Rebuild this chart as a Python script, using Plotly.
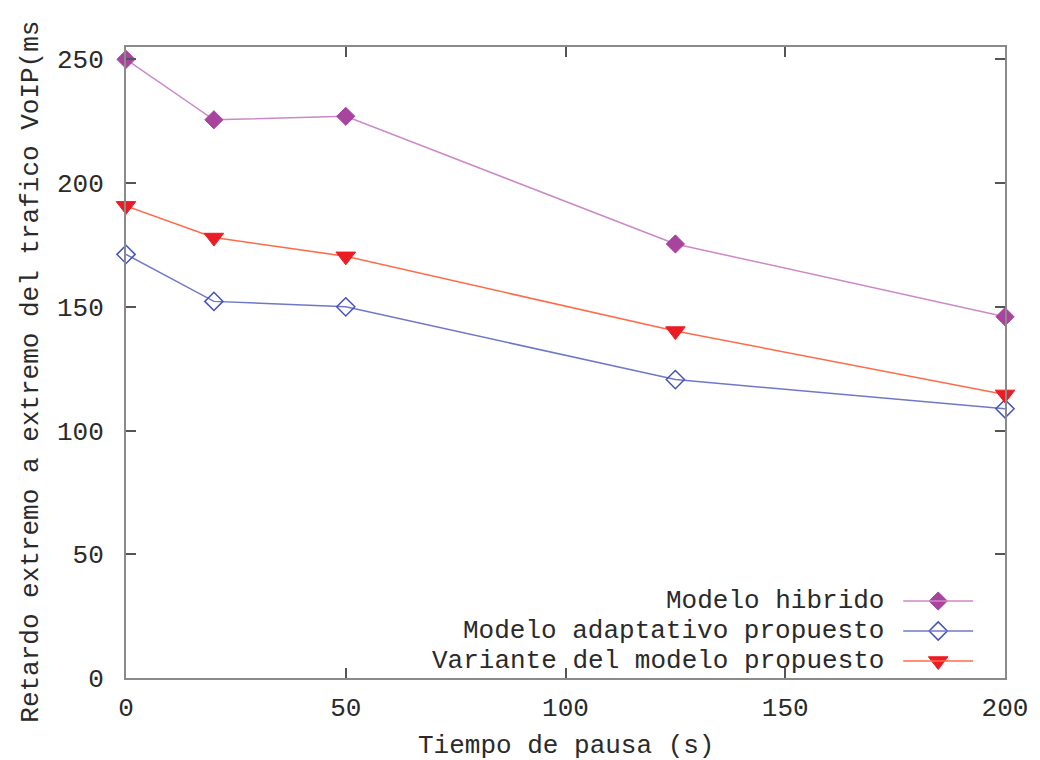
import plotly.graph_objects as go

# ---- data ----
pause_time = [0, 20, 50, 125, 200]
hibrido = [250.0, 225.6, 227.0, 175.4, 146.0]
adaptativo = [171.2, 152.2, 150.0, 120.6, 108.8]
variante = [190.8, 178.0, 170.4, 140.2, 114.6]

series_names = ["Modelo hibrido", "Modelo adaptativo propuesto", "Variante del modelo propuesto"]
x_ticks = [0, 50, 100, 150, 200]
y_ticks = [0, 50, 100, 150, 200, 250]

x_title = "Tiempo de pausa (s)"
y_title = "Retardo extremo a extremo del trafico VoIP(ms"

# ---- styles ----
FONT = "Liberation Mono, Courier New, monospace"
FS = 26
TXT = "#2a2a2a"
AX = "#8a8a8a"

styles = [
    dict(line=dict(color="#cc88c8", width=1.5),
         marker=dict(symbol="diamond", size=14, color="#a8449e",
                     line=dict(color="#a8449e", width=1))),
    dict(line=dict(color="#6f78c8", width=1.5),
         marker=dict(symbol="diamond-open", size=14, color="#4453bd",
                     line=dict(color="#4453bd", width=1.5))),
    dict(line=dict(color="#ff6a48", width=1.5),
         marker=dict(symbol="triangle-down", size=17, color="#ec1c24",
                     line=dict(color="#ec1c24", width=1))),
]

fig = go.Figure()
for name, ys, st in zip(series_names, [hibrido, adaptativo, variante], styles):
    fig.add_trace(go.Scatter(x=pause_time, y=ys, mode="lines+markers", name=name,
                             line=st["line"], marker=st["marker"], cliponaxis=False,
                             showlegend=False))

# ---- custom legend (text left, key right), on an overlay axis with [0,1] range ----
leg_rows = [0.1220, 0.0745, 0.0269]
text_right = 0.8638
key_x0, key_xm, key_x1 = 0.8842, 0.924, 0.9637
annotations = []
shapes = []
for name, st, yr in zip(series_names, styles, leg_rows):
    annotations.append(dict(xref="paper", yref="paper", x=text_right, y=yr, text=name,
                            showarrow=False, xanchor="right", yanchor="middle", borderpad=0,
                            font=dict(family=FONT, size=FS, color=TXT)))
    shapes.append(dict(type="line", xref="paper", yref="paper", x0=key_x0, x1=key_x1,
                       y0=yr, y1=yr, line=dict(color=st["line"]["color"], width=1.5)))
    fig.add_trace(go.Scatter(x=[key_xm], y=[yr], mode="markers", marker=st["marker"],
                             xaxis="x2", yaxis="y2", showlegend=False, cliponaxis=False,
                             hoverinfo="skip"))

annotations.append(dict(xref="paper", yref="paper", x=0.5, y=-0.108, text=x_title,
                        showarrow=False, xanchor="center", yanchor="middle",
                        font=dict(family=FONT, size=FS, color=TXT)))
annotations.append(dict(xref="paper", yref="paper", x=-0.109, y=0.4857, text=y_title,
                        showarrow=False, xanchor="center", yanchor="middle", textangle=-90,
                        font=dict(family=FONT, size=FS, color=TXT)))

axis_common = dict(showgrid=False, zeroline=False, showline=True, linecolor=AX, linewidth=2,
                   mirror="ticks", ticks="inside", ticklen=10, tickwidth=1.5, tickcolor="#555555",
                   tickfont=dict(family=FONT, size=FS, color=TXT))

fig.update_layout(
    width=1040, height=760,
    margin=dict(l=126, r=33, t=47, b=82),
    paper_bgcolor="white", plot_bgcolor="white",
    xaxis=dict(range=[0, 200], tickvals=x_ticks, ticklabelstandoff=5, **axis_common),
    yaxis=dict(range=[0, 255], tickvals=y_ticks, ticklabelstandoff=15, **axis_common),
    xaxis2=dict(overlaying="x", range=[0, 1], visible=False, fixedrange=True),
    yaxis2=dict(overlaying="y", range=[0, 1], visible=False, fixedrange=True),
    annotations=annotations,
    shapes=shapes,
    showlegend=False,
)

fig.write_html("out.html")
